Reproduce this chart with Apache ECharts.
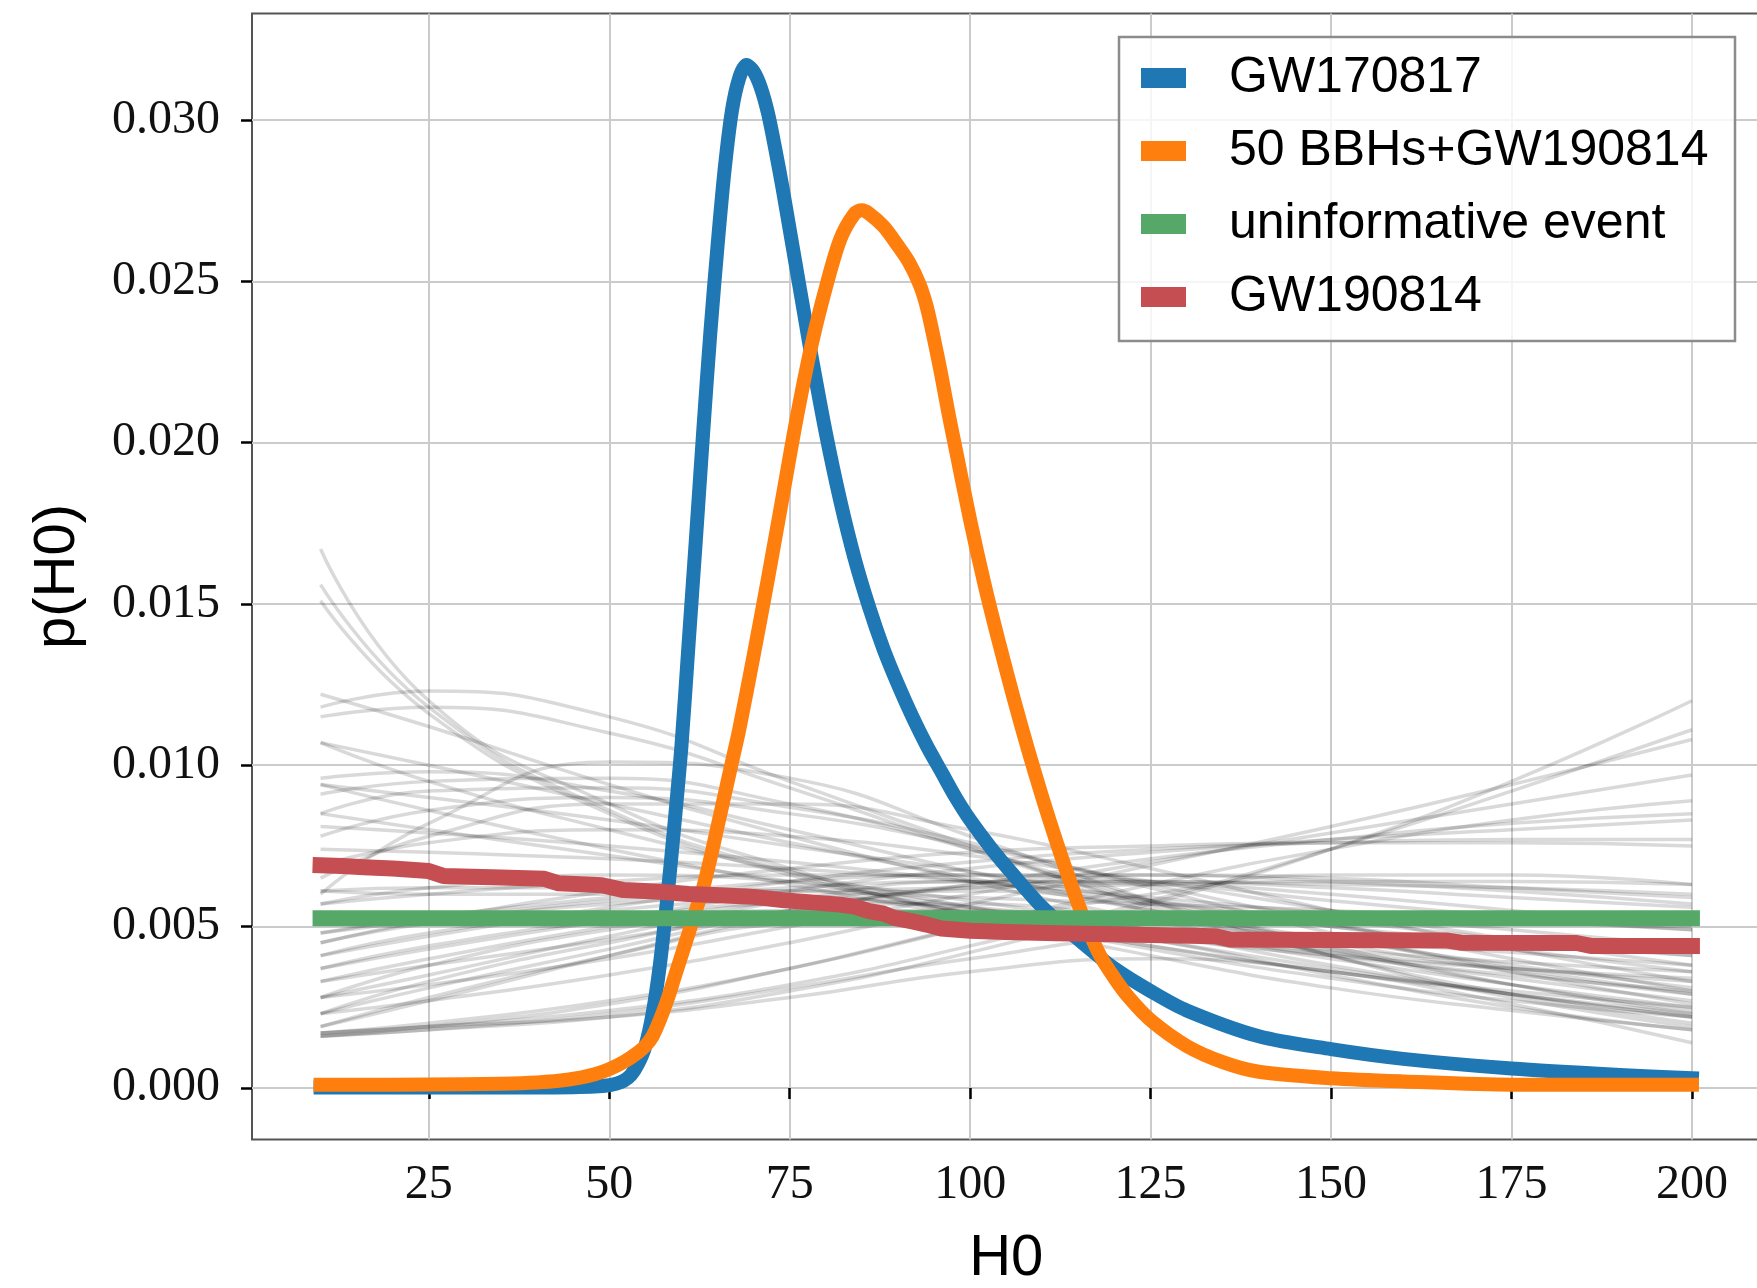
<!DOCTYPE html>
<html>
<head>
<meta charset="utf-8">
<title>p(H0)</title>
<script src="https://cdn.jsdelivr.net/npm/echarts@6/dist/echarts.min.js"></script>
<style>
  html, body { margin: 0; padding: 0; background: #ffffff; }
  #chart { width: 1757px; height: 1288px; }
</style>
</head>
<body>
<div id="chart"></div>
<script>
// ---- axis ticks ----
const xTicks = [25, 50, 75, 100, 125, 150, 175, 200];
const yTicks = [0, 0.005, 0.010, 0.015, 0.020, 0.025, 0.030];

// ---- GW170817 posterior ----
const gw170817H = [10, 20, 30, 40, 45, 48, 50, 51, 52, 53, 54, 55, 56, 57, 58, 59, 60, 61, 62, 63, 64, 65, 66, 67, 68, 69, 70, 71, 72, 73, 74, 75, 76, 77, 78, 80, 82, 84, 86, 88, 90, 92, 94, 96, 98, 100, 103, 106, 110, 115, 120, 125, 130, 140, 150, 160, 175, 190, 200];
const gw170817P = [0.00001, 0.00001, 0.00001, 0.00001, 0.00002, 0.00004, 0.00008, 0.00013, 0.00022, 0.00040, 0.00075, 0.0013, 0.0023, 0.0038, 0.0058, 0.0081, 0.0106, 0.0138, 0.0170, 0.0203, 0.0234, 0.0261, 0.0285, 0.0303, 0.0313, 0.0317, 0.0315, 0.0310, 0.0302, 0.0291, 0.0279, 0.0266, 0.0253, 0.0240, 0.0227, 0.0203, 0.0182, 0.0164, 0.0149, 0.0136, 0.0125, 0.0115, 0.0106, 0.0098, 0.0090, 0.0083, 0.0074, 0.0066, 0.0056, 0.0046, 0.0037, 0.0030, 0.0024, 0.0016, 0.0012, 0.0009, 0.0006, 0.0004, 0.0003];

// ---- 50 BBHs + GW190814 combined posterior ----
const bbhH = [10, 20, 30, 35, 40, 43, 46, 48, 50, 52, 54, 55, 56, 57, 58, 59, 60, 61, 62, 63, 64, 65, 66, 67, 68, 70, 72, 74, 76, 78, 80, 82, 84, 85, 86, 88, 90, 91.5, 93, 94, 95, 96, 97, 98, 100, 102, 104, 106, 108, 110, 112, 114, 116, 118, 120, 122, 125, 130, 135, 140, 150, 160, 175, 200];
const bbhP = [0.00010, 0.00010, 0.00011, 0.00013, 0.00017, 0.00022, 0.00032, 0.00042, 0.00058, 0.00080, 0.00110, 0.0013, 0.0016, 0.0021, 0.0027, 0.0034, 0.0041, 0.0048, 0.0055, 0.0062, 0.0071, 0.0081, 0.0091, 0.0101, 0.0111, 0.0134, 0.0158, 0.0183, 0.0208, 0.0230, 0.0248, 0.0263, 0.0271, 0.0272, 0.0271, 0.0267, 0.0261, 0.0256, 0.0249, 0.0242, 0.0232, 0.0221, 0.0209, 0.0198, 0.0176, 0.0156, 0.0138, 0.0121, 0.0105, 0.0090, 0.0076, 0.0063, 0.0051, 0.0041, 0.0034, 0.0028, 0.0021, 0.0013, 0.0008, 0.0005, 0.0003, 0.0002, 0.0001, 0.0001];

// ---- flat prior for an uninformative event ----
const flatH = [10, 50, 100, 150, 200];
const flatP = [0.00526, 0.00526, 0.00526, 0.00526, 0.00526];

// ---- GW190814 posterior ----
const gw190814H = [10, 13, 16, 20, 25, 27, 35, 41, 43, 49, 52, 57, 61, 66, 70, 74, 78, 82, 84, 86, 88, 89.5, 92, 94, 96, 100, 105, 112, 125, 134, 136, 150, 166, 168, 184, 186, 200];
const gw190814P = [0.00690, 0.00688, 0.00684, 0.00680, 0.00672, 0.00657, 0.00652, 0.00648, 0.00634, 0.00628, 0.00613, 0.00608, 0.00601, 0.00596, 0.00592, 0.00582, 0.00575, 0.00568, 0.00562, 0.00548, 0.00540, 0.00527, 0.00516, 0.00506, 0.00494, 0.00487, 0.00483, 0.00479, 0.00474, 0.00470, 0.00460, 0.00458, 0.00457, 0.00450, 0.00449, 0.00440, 0.00440];

// ---- individual BBH posteriors, sampled at bbhGridH ----
const bbhGridH = [10, 25, 50, 75, 100, 125, 150, 175, 200];
const singleBBH = [
  [0.0167, 0.0120, 0.0088, 0.0068, 0.0053, 0.0041, 0.0031, 0.0024, 0.0018],
  [0.0156, 0.0118, 0.0086, 0.0067, 0.0054, 0.0043, 0.0034, 0.0027, 0.0022],
  [0.0151, 0.0116, 0.0085, 0.0066, 0.0054, 0.0044, 0.0036, 0.0030, 0.0025],
  [0.0118, 0.0123, 0.0115, 0.0095, 0.0075, 0.0056, 0.0041, 0.0029, 0.0020],
  [0.0122, 0.0112, 0.0094, 0.0078, 0.0064, 0.0052, 0.0042, 0.0034, 0.0027],
  [0.0115, 0.0118, 0.0110, 0.0093, 0.0074, 0.0057, 0.0043, 0.0032, 0.0024],
  [0.0107, 0.0100, 0.0088, 0.0076, 0.0065, 0.0055, 0.0046, 0.0038, 0.0031],
  [0.0096, 0.0098, 0.0092, 0.0080, 0.0067, 0.0055, 0.0045, 0.0036, 0.0029],
  [0.0094, 0.0090, 0.0083, 0.0075, 0.0067, 0.0058, 0.0050, 0.0043, 0.0036],
  [0.0091, 0.0095, 0.0096, 0.0088, 0.0074, 0.0058, 0.0044, 0.0032, 0.0023],
  [0.0085, 0.0092, 0.0093, 0.0087, 0.0076, 0.0062, 0.0048, 0.0036, 0.0026],
  [0.0081, 0.0079, 0.0075, 0.0070, 0.0064, 0.0058, 0.0052, 0.0046, 0.0041],
  [0.0078, 0.0086, 0.0090, 0.0085, 0.0075, 0.0063, 0.0051, 0.0040, 0.0030],
  [0.0074, 0.0073, 0.0071, 0.0068, 0.0064, 0.0059, 0.0054, 0.0049, 0.0044],
  [0.0069, 0.0076, 0.0080, 0.0078, 0.0072, 0.0064, 0.0055, 0.0046, 0.0038],
  [0.0060, 0.0082, 0.0101, 0.0096, 0.0078, 0.0058, 0.0041, 0.0028, 0.0019],
  [0.0065, 0.0078, 0.0088, 0.0088, 0.0080, 0.0068, 0.0055, 0.0043, 0.0033],
  [0.0057, 0.0060, 0.0064, 0.0066, 0.0066, 0.0064, 0.0060, 0.0055, 0.0050],
  [0.0048, 0.0053, 0.0059, 0.0064, 0.0066, 0.0066, 0.0064, 0.0061, 0.0057],
  [0.0061, 0.0062, 0.0062, 0.0061, 0.0059, 0.0057, 0.0055, 0.0052, 0.0049],
  [0.0016, 0.0018, 0.0022, 0.0030, 0.0042, 0.0057, 0.0074, 0.0095, 0.0120],
  [0.0017, 0.0019, 0.0024, 0.0032, 0.0044, 0.0058, 0.0074, 0.0092, 0.0111],
  [0.0023, 0.0027, 0.0035, 0.0045, 0.0057, 0.0069, 0.0081, 0.0094, 0.0108],
  [0.0028, 0.0032, 0.0040, 0.0050, 0.0060, 0.0070, 0.0079, 0.0088, 0.0097],
  [0.0017, 0.0020, 0.0027, 0.0037, 0.0050, 0.0063, 0.0074, 0.0083, 0.0089],
  [0.0033, 0.0038, 0.0046, 0.0055, 0.0063, 0.0071, 0.0077, 0.0082, 0.0085],
  [0.0037, 0.0043, 0.0052, 0.0061, 0.0068, 0.0073, 0.0077, 0.0080, 0.0083],
  [0.0041, 0.0047, 0.0056, 0.0064, 0.0070, 0.0074, 0.0076, 0.0077, 0.0077],
  [0.0045, 0.0052, 0.0061, 0.0068, 0.0073, 0.0075, 0.0076, 0.0076, 0.0075],
  [0.0016, 0.0019, 0.0026, 0.0037, 0.0050, 0.0060, 0.0066, 0.0066, 0.0063],
  [0.0019, 0.0027, 0.0041, 0.0054, 0.0063, 0.0066, 0.0065, 0.0062, 0.0059],
  [0.0023, 0.0031, 0.0043, 0.0055, 0.0062, 0.0064, 0.0062, 0.0059, 0.0056],
  [0.0028, 0.0035, 0.0047, 0.0058, 0.0064, 0.0063, 0.0058, 0.0053, 0.0049],
  [0.0033, 0.0040, 0.0050, 0.0058, 0.0061, 0.0057, 0.0050, 0.0045, 0.0041],
  [0.0037, 0.0044, 0.0052, 0.0057, 0.0057, 0.0052, 0.0046, 0.0042, 0.0038],
  [0.0041, 0.0048, 0.0055, 0.0058, 0.0056, 0.0049, 0.0043, 0.0039, 0.0036],
  [0.0045, 0.0051, 0.0057, 0.0059, 0.0055, 0.0047, 0.0041, 0.0037, 0.0034],
  [0.0016, 0.0018, 0.0023, 0.0031, 0.0040, 0.0046, 0.0045, 0.0037, 0.0029],
  [0.0019, 0.0028, 0.0041, 0.0051, 0.0053, 0.0048, 0.0040, 0.0032, 0.0025],
  [0.0023, 0.0033, 0.0045, 0.0054, 0.0055, 0.0048, 0.0038, 0.0029, 0.0022],
  [0.0028, 0.0038, 0.0049, 0.0055, 0.0054, 0.0046, 0.0035, 0.0025, 0.0018],
  [0.0017, 0.0019, 0.0022, 0.0028, 0.0036, 0.0040, 0.0036, 0.0026, 0.0014],
  [0.0057, 0.0062, 0.0066, 0.0064, 0.0058, 0.0049, 0.0041, 0.0035, 0.0030],
  [0.0107, 0.0095, 0.0080, 0.0067, 0.0056, 0.0046, 0.0037, 0.0029, 0.0022],
  [0.0085, 0.0080, 0.0072, 0.0064, 0.0056, 0.0048, 0.0042, 0.0037, 0.0033],
  [0.0094, 0.0086, 0.0074, 0.0063, 0.0053, 0.0044, 0.0036, 0.0029, 0.0023],
  [0.0048, 0.0052, 0.0058, 0.0062, 0.0064, 0.0064, 0.0063, 0.0062, 0.0060],
  [0.0061, 0.0060, 0.0060, 0.0061, 0.0062, 0.0063, 0.0064, 0.0064, 0.0063]
];

const zip = (xs, ys) => xs.map((x, i) => [x, ys[i]]);

const SERIF = '"Liberation Serif", "DejaVu Serif", serif';
const SANS = '"Liberation Sans", Arial, sans-serif';

const series = [];

// faint single-event posteriors underneath everything
singleBBH.forEach((curve, i) => {
  series.push({
    name: 'bbh-' + i,
    type: 'line',
    data: zip(bbhGridH, curve),
    showSymbol: false,
    smooth: 0.5,
    silent: true,
    lineStyle: { color: 'rgba(0,0,0,0.15)', width: 3.5 },
    z: 2
  });
});

const mainLines = [
  { name: 'GW170817', h: gw170817H, p: gw170817P, color: '#1f77b4', width: 14, smooth: 0.3 },
  { name: '50 BBHs+GW190814', h: bbhH, p: bbhP, color: '#ff7f0e', width: 14, smooth: 0.3 },
  { name: 'uninformative event', h: flatH, p: flatP, color: '#55a868', width: 16, smooth: false },
  { name: 'GW190814', h: gw190814H, p: gw190814P, color: '#c44e52', width: 16, smooth: false }
];

mainLines.forEach(s => {
  series.push({
    name: s.name,
    type: 'line',
    data: zip(s.h, s.p),
    showSymbol: false,
    smooth: s.smooth,
    silent: true,
    itemStyle: { color: s.color },
    lineStyle: { color: s.color, width: s.width, cap: 'square', join: 'round' },
    z: 3
  });
});

const chart = echarts.init(document.getElementById('chart'), null, { renderer: 'canvas' });

chart.setOption({
  animation: false,
  backgroundColor: '#ffffff',
  grid: {
    left: 252, top: 13.5, right: -3.5, bottom: 148.5,
    containLabel: false,
    outerBoundsMode: 'none',
    show: true,
    borderColor: '#555555',
    borderWidth: 2,
    backgroundColor: 'transparent'
  },
  xAxis: {
    type: 'value',
    min: 0.5,
    max: 209.5,
    name: 'H0',
    nameLocation: 'middle',
    nameGap: 90,
    nameTextStyle: { fontFamily: SANS, fontSize: 58, color: '#000' },
    axisLine: { show: false },
    axisTick: { show: true, customValues: xTicks, length: 11, lineStyle: { color: '#000', width: 2.5 } },
    axisLabel: {
      customValues: xTicks,
      margin: 22,
      fontFamily: SERIF, fontSize: 48, color: '#111'
    },
    splitLine: { show: true, lineStyle: { color: '#cbcbcb', width: 2 } }
  },
  yAxis: {
    type: 'value',
    min: -0.0016,
    max: 0.0333,
    name: 'p(H0)',
    nameLocation: 'middle',
    nameGap: 165,
    nameTextStyle: { fontFamily: SANS, fontSize: 58, color: '#000' },
    axisLine: { show: false },
    axisTick: { show: true, customValues: yTicks, length: 11, lineStyle: { color: '#000', width: 2.5 } },
    axisLabel: {
      customValues: yTicks,
      margin: 32,
      fontFamily: SERIF, fontSize: 48, color: '#111',
      formatter: v => v.toFixed(3)
    },
    splitLine: { show: true, lineStyle: { color: '#cbcbcb', width: 2 } }
  },
  legend: {
    data: mainLines.map(s => s.name),
    orient: 'vertical',
    left: 1141,
    top: 53,
    padding: 0,
    itemWidth: 45,
    itemHeight: 20,
    itemGap: 23,
    icon: 'rect',
    selectedMode: false,
    z: 20,
    textStyle: {
      fontFamily: SANS, fontSize: 50, color: '#000', lineHeight: 50,
      padding: [0, 0, 0, 38]
    }
  },
  graphic: [{
    type: 'rect',
    z: 10,
    shape: { x: 1119, y: 37, width: 616, height: 304 },
    style: { fill: 'rgba(255,255,255,0.8)', stroke: '#8c8c8c', lineWidth: 2.5 }
  }],
  series: series
});
</script>
</body>
</html>
